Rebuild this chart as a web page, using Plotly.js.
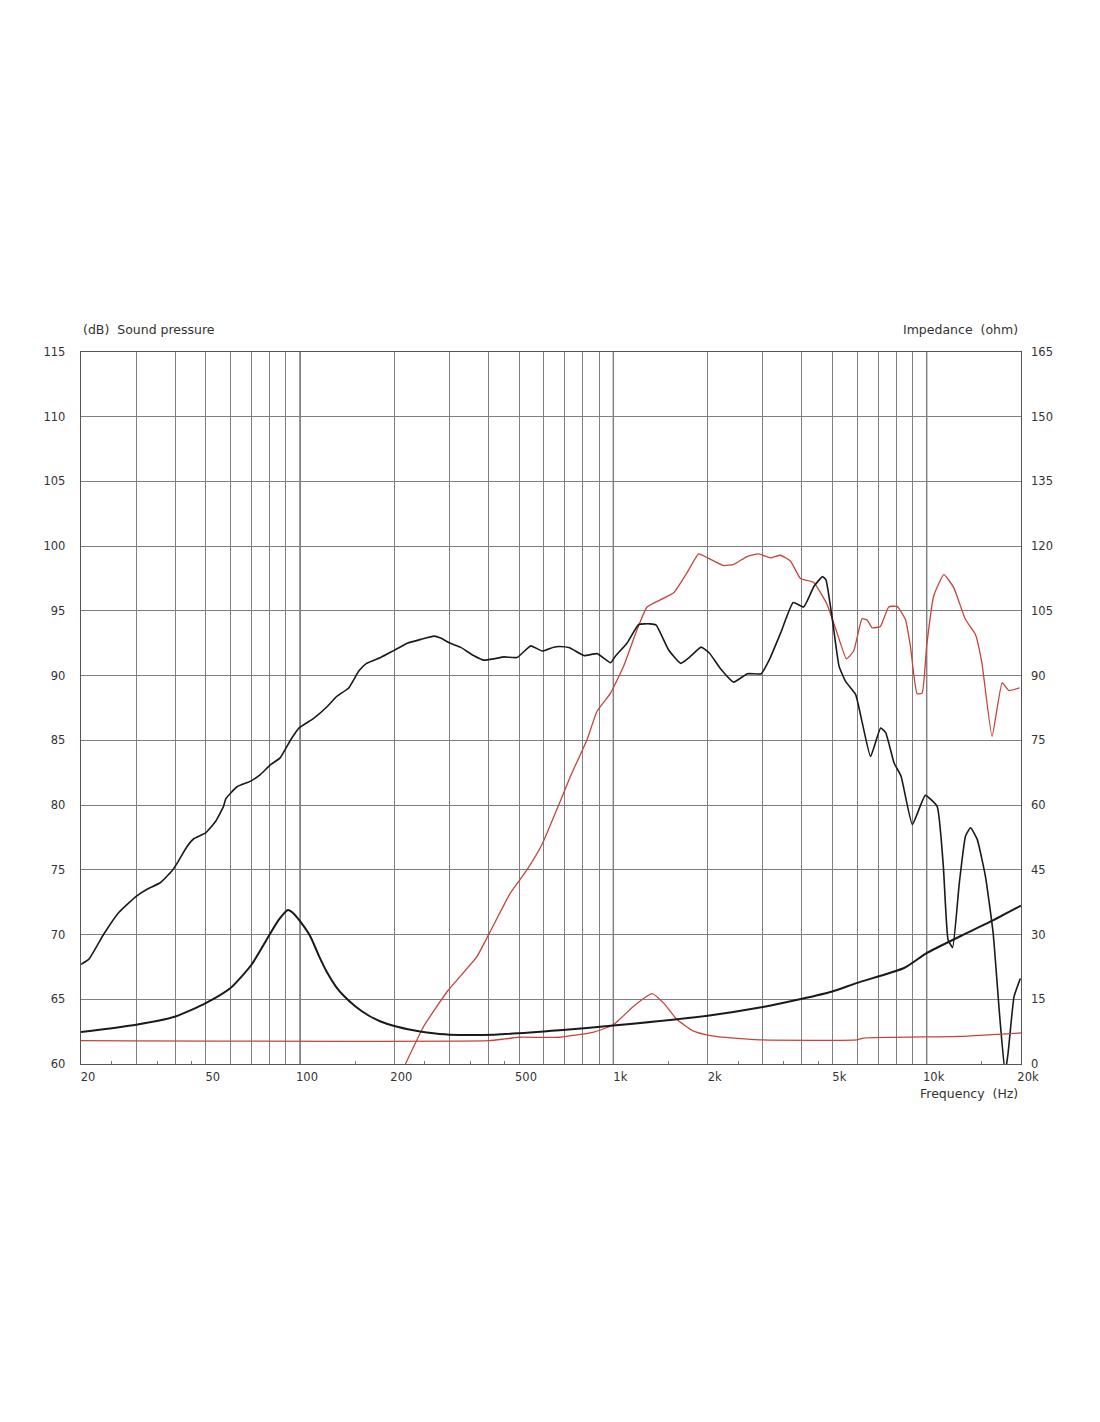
<!DOCTYPE html>
<html>
<head>
<meta charset="utf-8">
<script src="https://cdn.plot.ly/plotly-3.0.1.min.js"></script>
<style>html,body{margin:0;padding:0;background:#fff;}#chart{width:1100px;height:1422px;}</style>
</head>
<body>
<div id="chart"></div>
<script>
// Sound pressure, black curve (dB)
const splBlackFreq = [20,21.2,23.6,26.4,30,32.5,35.8,39,40.5,43.6,45.8,50,53.8,57,58,62.8,69.6,74.7,80.4,86.4,93.4,99.2,110.5,122,131,143,154,163,180.8,199.5,220,243,268,281,302,325,358,385,416,448,493,545,593,645,675,725,805,888,980,1015,1105,1205,1310,1370,1500,1640,1765,1905,2025,2195,2420,2680,2965,3150,3420,3750,4050,4370,4650,4770,5000,5250,5510,5930,6230,6620,7130,7400,7870,8280,9000,9900,10800,11300,11700,12100,12700,13300,13800,14500,15400,16300,17100,17800,18200,19000,19900];
const splBlackDb = [67.7,68.1,70.0,71.7,72.95,73.5,74.0,74.9,75.5,76.8,77.4,77.85,78.75,79.9,80.5,81.4,81.85,82.35,83.1,83.65,85.05,85.95,86.7,87.6,88.4,89.05,90.35,90.95,91.4,91.95,92.5,92.8,93.05,92.9,92.5,92.2,91.55,91.2,91.3,91.45,91.4,92.3,91.9,92.2,92.25,92.15,91.55,91.7,91.0,91.5,92.5,93.95,94.0,93.9,92.0,90.95,91.5,92.2,91.75,90.55,89.5,90.15,90.15,91.25,93.3,95.65,95.3,96.9,97.65,97.4,94.35,90.75,89.55,88.55,86.35,83.75,85.95,85.6,83.25,82.25,78.5,80.75,79.9,75.3,69.6,69.0,73.9,77.6,78.25,77.35,74.5,70.1,63.7,59.3,60.9,65.2,66.6];

// Sound pressure, red curve (dB)
const splRedFreq = [217,248,295,367,400,469,530,592,677,729,824,887,980,1079,1190,1281,1412,1558,1719,1872,1998,2250,2422,2672,2910,3171,3414,3675,3955,4361,4810,5176,5545,5848,6222,6456,6697,7118,7565,8045,8552,8870,9320,9670,10000,10530,11340,12200,13290,14300,15000,16170,17410,18300,19800];
const splRedDb = [60.0,62.9,65.6,68.3,70.0,73.2,75.0,76.95,80.3,82.2,85.05,87.25,88.65,90.75,93.55,95.3,95.85,96.4,97.95,99.4,99.1,98.5,98.6,99.2,99.4,99.1,99.3,98.85,97.5,97.2,95.5,93.3,91.3,91.9,94.4,94.3,93.7,93.8,95.3,95.35,94.35,92.3,88.6,88.65,92.3,96.15,97.8,96.8,94.35,93.2,91.0,85.3,89.45,88.85,89.05];

// Impedance, black curve (ohm)
const impBlackFreq = [20,30,40,50,60,70,80,85.5,91.5,95,100,107.8,115,121.8,130,137.9,150,165,180,200,230,254,300,417,674,1000,2000,3000,4000,5000,6000,8500,10000,12800,16400,20000];
const impBlackOhm = [7.4,9.1,11.0,14.1,17.6,23.0,30.0,33.4,35.7,35.0,33.1,29.6,25.0,21.3,18.0,15.8,13.4,11.3,9.9,8.8,7.8,7.3,6.8,6.8,7.8,8.9,11.2,13.2,15.1,16.8,18.8,22.3,25.7,29.6,33.4,36.7];

// Impedance, red curve (ohm)
const impRedFreq = [20,400,450,500,674,866,1000,1161,1329,1447,1597,1804,2040,2420,2940,6000,6300,12800,20000];
const impRedOhm = [5.4,5.4,5.8,6.2,6.2,7.4,9.1,13.4,16.3,14.1,10.3,7.6,6.6,6.0,5.6,5.6,6.0,6.4,7.2];

// Axis ticks
const xGridVals = [20,30,40,50,60,70,80,90,100,200,300,400,500,600,700,800,900,1000,2000,3000,4000,5000,6000,7000,8000,9000,10000,20000];
const xDecadeVals = [100,1000,10000];
const xLabelVals = [20,50,100,200,500,1000,2000,5000,10000,20000];
const xLabelText = ['20','50','100','200','500','1k','2k','5k','10k','20k'];
const xMinorVals = [25,35,45,150,250,350,450,1500,2500,3500,4500,15000];
const yLeftTicks = [60,65,70,75,80,85,90,95,100,105,110,115];
const yRightTicks = [0,15,30,45,60,75,90,105,120,135,150,165];

const RED = '#c4453c';
const BLACK = '#1a1a1a';
const GRID = '#808080';
const FONT = 'DejaVu Sans, Verdana, sans-serif';

const xText = xGridVals.map(v => { const i = xLabelVals.indexOf(v); return i >= 0 ? xLabelText[i] : ''; });

const traces = [
  {x: impRedFreq, y: impRedOhm, yaxis: 'y2', mode: 'lines', line: {color: RED, width: 1.3, shape: 'spline', smoothing: 0.5}, name: 'Impedance red'},
  {x: impBlackFreq, y: impBlackOhm, yaxis: 'y2', mode: 'lines', line: {color: BLACK, width: 2, shape: 'spline', smoothing: 0.6}, name: 'Impedance black'},
  {x: splRedFreq, y: splRedDb, mode: 'lines', line: {color: RED, width: 1.3, shape: 'spline', smoothing: 0.4}, name: 'SPL red'},
  {x: splBlackFreq, y: splBlackDb, mode: 'lines', line: {color: BLACK, width: 1.6, shape: 'spline', smoothing: 0.4}, name: 'SPL black'}
];

const decadeShapes = xDecadeVals.map(v => ({
  type: 'line', xref: 'x', yref: 'paper', x0: v, x1: v, y0: 0, y1: 1,
  line: {color: '#707070', width: 1.4}, layer: 'below'
}));

const layout = {
  width: 1100, height: 1422,
  margin: {l: 81, r: 79, t: 352, b: 358},
  paper_bgcolor: '#fff', plot_bgcolor: '#fff',
  showlegend: false,
  font: {family: FONT, size: 11, color: '#333'},
  shapes: decadeShapes,
  xaxis: {
    type: 'log', range: [Math.log10(20), Math.log10(20000)],
    tickmode: 'array', tickvals: xGridVals, ticktext: xText,
    ticks: '', showgrid: true, gridcolor: GRID, gridwidth: 1,
    showline: true, linecolor: '#555', linewidth: 1.3, mirror: true,
    zeroline: false, ticklabelshift: 7, ticklabelstandoff: 2,
    tickfont: {family: FONT, size: 11.5, color: '#333'},
    minor: {tickmode: 'array', tickvals: xMinorVals, ticks: 'inside', ticklen: 3, tickcolor: '#777', showgrid: false}
  },
  yaxis: {
    range: [60, 115], tickmode: 'array', tickvals: yLeftTicks,
    ticks: '', showgrid: true, gridcolor: GRID, gridwidth: 1,
    showline: true, linecolor: '#555', linewidth: 1.3, mirror: true,
    zeroline: false, ticklabelstandoff: 12,
    tickfont: {family: FONT, size: 11.5, color: '#333'}
  },
  yaxis2: {
    overlaying: 'y', side: 'right', range: [0, 165],
    tickmode: 'array', tickvals: yRightTicks, ticks: '',
    showgrid: false, zeroline: false, showline: false,
    ticklabelstandoff: 9,
    tickfont: {family: FONT, size: 11.5, color: '#333'}
  },
  annotations: [
    {text: '(dB)\u00a0\u00a0Sound pressure', xref: 'paper', yref: 'paper', x: 0, y: 1.031, xanchor: 'left', yanchor: 'middle', showarrow: false, font: {family: FONT, size: 12.5, color: '#333'}},
    {text: 'Impedance\u00a0\u00a0(ohm)', xref: 'paper', yref: 'paper', x: 0.999, y: 1.031, xanchor: 'right', yanchor: 'middle', showarrow: false, font: {family: FONT, size: 12.5, color: '#333'}},
    {text: 'Frequency\u00a0\u00a0(Hz)', xref: 'paper', yref: 'paper', x: 0.999, y: -0.041, xanchor: 'right', yanchor: 'middle', showarrow: false, font: {family: FONT, size: 12.5, color: '#333'}}
  ]
};

Plotly.newPlot('chart', traces, layout, {displayModeBar: false, staticPlot: true});
</script>
</body>
</html>
